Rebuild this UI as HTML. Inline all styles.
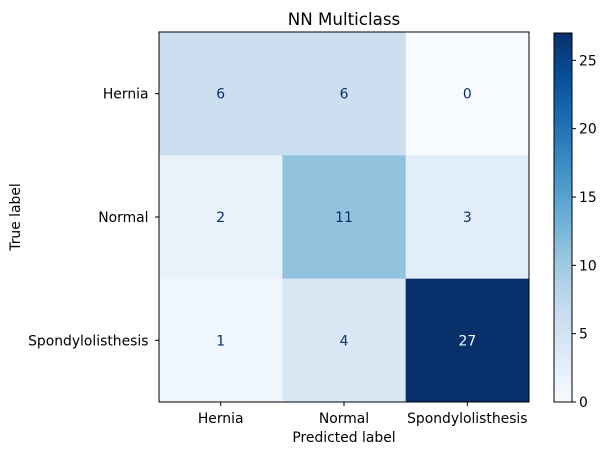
<!DOCTYPE html>
<html><head><meta charset="utf-8"><style>
body{margin:0;background:#fff;}
svg{display:block;font-family:"DejaVu Sans","Liberation Sans",sans-serif;}
</style></head><body>
<svg id="chart" width="609" height="455" xmlns="http://www.w3.org/2000/svg">
<defs><linearGradient id="cb" x1="0" y1="1" x2="0" y2="0">
<stop offset="0" stop-color="#f7fbff"/><stop offset="0.125" stop-color="#deebf7"/><stop offset="0.25" stop-color="#c6dbef"/><stop offset="0.375" stop-color="#9ecae1"/><stop offset="0.5" stop-color="#6baed6"/><stop offset="0.625" stop-color="#4292c6"/><stop offset="0.75" stop-color="#2171b5"/><stop offset="0.875" stop-color="#08519c"/><stop offset="1" stop-color="#08306b"/>
</linearGradient></defs>
<text x="344" y="25" font-size="16.7" text-anchor="middle" fill="#000">NN Multiclass</text>
<g id="cells"></g>
<rect x="159" y="32" width="370" height="370" fill="none" stroke="#000" stroke-width="1"/>
<text x="344" y="442" font-size="13.9" text-anchor="middle">Predicted label</text>
<text x="20" y="217" font-size="13.9" text-anchor="middle" transform="rotate(-90 20 217)">True label</text>
<rect x="554" y="33" width="18" height="369" fill="url(#cb)" stroke="#000" stroke-width="1"/>
<g id="cbticks"></g>
</svg>
<script>
const labels = ["Hernia","Normal","Spondylolisthesis"];
const matrix = [[6,6,0],[2,11,3],[1,4,27]];
const cbTicks = [0,5,10,15,20,25];
const stops = ["#f7fbff","#deebf7","#c6dbef","#9ecae1","#6baed6","#4292c6","#2171b5","#08519c","#08306b"];
const NS="http://www.w3.org/2000/svg";
const x0=159,y0=32,size=370,n=labels.length,cw=size/n;
const vmax=Math.max(...matrix.flat()), vmin=Math.min(...matrix.flat());
function hex(h){return [1,3,5].map(i=>parseInt(h.substr(i,2),16));}
function color(v){let t=(v-vmin)/(vmax-vmin)*(stops.length-1);let i=Math.min(Math.floor(t),stops.length-2);let f=t-i;let a=hex(stops[i]),b=hex(stops[i+1]);return "rgb("+a.map((c,k)=>Math.round(c+(b[k]-c)*f)).join(",")+")";}
function xs(j){return x0+j*cw;} function ys(i){return y0+i*cw;}
const cells=document.getElementById('cells');
function mk(tag,attrs,txt){const e=document.createElementNS(NS,tag);for(const k in attrs)e.setAttribute(k,attrs[k]);if(txt!==undefined)e.textContent=txt;return e;}
matrix.forEach((row,i)=>row.forEach((v,j)=>{
 const r=mk('rect',{x:xs(j),y:ys(i),width:cw+0.5,height:cw+0.5,fill:color(v)});
 
 
 cells.appendChild(r);
 const t=mk('text',{x:xs(j)+cw/2,y:ys(i)+cw/2+5,'font-size':13.9,'text-anchor':'middle',fill:(v-vmin)/(vmax-vmin)>0.5?'#f7fbff':'#08306b'},v);
 
 
 cells.appendChild(t);
}));
labels.forEach((l,k)=>{
 const cx=xs(k)+cw/2, cy=ys(k)+cw/2;
 cells.appendChild(mk('line',{x1:cx,y1:402,x2:cx,y2:406,stroke:'#000'}));
 const tx=mk('text',{x:cx,y:423,'font-size':13.9,'text-anchor':'middle'},l);
 
 
 cells.appendChild(tx);
 cells.appendChild(mk('line',{x1:155,y1:cy,x2:159,y2:cy,stroke:'#000'}));
 const ty=mk('text',{x:148.5,y:cy+5,'font-size':13.9,'text-anchor':'end'},l);
 
 
 cells.appendChild(ty);
});
const cbg=document.getElementById('cbticks');
cbTicks.forEach(v=>{
 const y=402-(v-vmin)/(vmax-vmin)*369;
 cbg.appendChild(mk('line',{x1:572,y1:y,x2:576,y2:y,stroke:'#000'}));
 const t=mk('text',{x:579,y:y+5,'font-size':13.9},v);
 
 
 cbg.appendChild(t);
});
</script>
</body></html>
